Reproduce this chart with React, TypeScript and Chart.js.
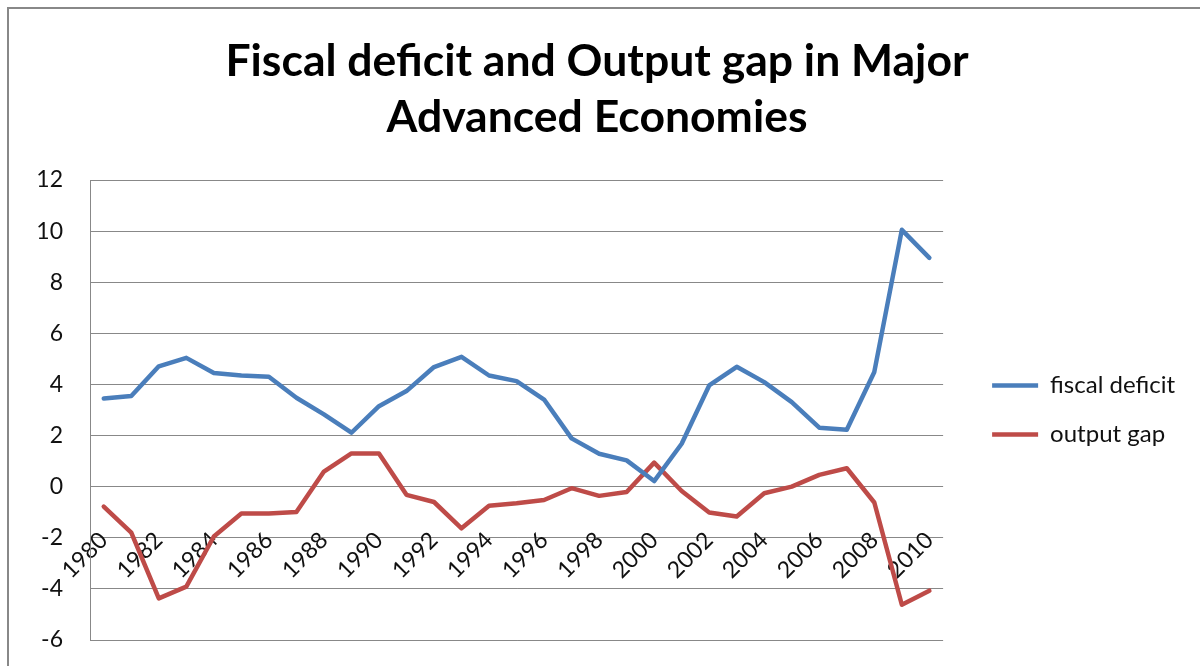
import React, { useEffect, useRef } from 'react';
import { Chart, registerables } from 'chart.js';

Chart.register(...registerables);

const TITLE_LINES = ['Fiscal deficit and Output gap in Major', 'Advanced Economies'];

const YEARS = [
  '1980', '1981', '1982', '1983', '1984', '1985', '1986', '1987', '1988', '1989',
  '1990', '1991', '1992', '1993', '1994', '1995', '1996', '1997', '1998', '1999',
  '2000', '2001', '2002', '2003', '2004', '2005', '2006', '2007', '2008', '2009', '2010',
];

const FISCAL_DEFICIT = [
  3.45, 3.55, 4.71, 5.04, 4.45, 4.35, 4.3, 3.48, 2.83, 2.11,
  3.15, 3.74, 4.68, 5.08, 4.35, 4.13, 3.41, 1.89, 1.29, 1.03,
  0.22, 1.68, 3.96, 4.69, 4.09, 3.31, 2.31, 2.23, 4.49, 10.05, 8.95,
];

const OUTPUT_GAP = [
  -0.78, -1.8, -4.37, -3.91, -1.95, -1.05, -1.05, -0.99, 0.59, 1.3,
  1.3, -0.32, -0.6, -1.63, -0.75, -0.65, -0.52, -0.06, -0.36, -0.21,
  0.94, -0.17, -1.01, -1.17, -0.26, 0.0, 0.46, 0.72, -0.62, -4.62, -4.07,
];

const Y_MIN = -6;
const Y_MAX = 12;
const Y_STEP = 2;

const BLUE = '#4A7EBB';
const RED = '#BE4B48';
const GRID = '#888888';
const TEXT = '#111111';
const FONT = 'Lato';

export default function App() {
  const ref = useRef<HTMLCanvasElement>(null);

  useEffect(() => {
    const canvas = ref.current;
    if (!canvas) return;
    const chart = new Chart(canvas, {
      type: 'line',
      data: {
        labels: YEARS,
        datasets: [
          {
            label: 'fiscal deficit',
            data: FISCAL_DEFICIT,
            borderColor: BLUE,
            backgroundColor: BLUE,
            borderWidth: 4.5,
            pointRadius: 0,
            tension: 0,
            borderCapStyle: 'round',
            borderJoinStyle: 'round',
            yAxisID: 'y',
          },
          {
            label: 'output gap',
            data: OUTPUT_GAP,
            borderColor: RED,
            backgroundColor: RED,
            borderWidth: 4.5,
            pointRadius: 0,
            tension: 0,
            borderCapStyle: 'round',
            borderJoinStyle: 'round',
            yAxisID: 'y',
          },
        ],
      },
      options: {
        animation: false,
        responsive: false,
        maintainAspectRatio: false,
        layout: { padding: { left: 0, right: 15, top: 0, bottom: 26 } },
        plugins: {
          title: {
            display: true,
            text: TITLE_LINES,
            color: '#000',
            font: { family: FONT, size: 44.5, weight: 'bold', lineHeight: 56 / 44.5 },
            padding: { top: 25, bottom: 34 },
          },
          legend: {
            position: 'right',
            fullSize: false,
            labels: {
              usePointStyle: true,
              pointStyle: 'line',
              pointStyleWidth: 46,
              padding: 25,
              color: TEXT,
              font: { family: FONT, size: 24 },
            },
          },
          tooltip: { enabled: false },
        },
        scales: {
          x: {
            type: 'category',
            offset: true,
            position: { y: 0 },
            grid: { display: false, drawTicks: false },
            border: { display: false },
            ticks: {
              autoSkip: false,
              maxRotation: 45,
              minRotation: 45,
              padding: 40,
              color: TEXT,
              font: { family: FONT, size: 23 },
              callback: (_v: any, i: number) => (i % 2 === 0 ? YEARS[i] : ''),
            },
          },
          y: {
            type: 'linear',
            position: 'left',
            min: Y_MIN,
            max: Y_MAX,
            ticks: {
              stepSize: Y_STEP,
              padding: 27,
              color: TEXT,
              font: { family: FONT, size: 23 },
            },
            grid: { color: GRID, lineWidth: 1, drawTicks: false },
            border: { display: true, color: GRID, width: 1 },
            afterFit: (s: any) => {
              s.width = 81;
              s.paddingTop = 0;
              s.paddingBottom = 0;
            },
          },
          y2: {
            type: 'linear',
            position: 'right',
            display: false,
            afterFit: (s: any) => {
              s.width = 24;
            },
          },
        },
      },
    } as any);
    return () => chart.destroy();
  }, []);

  return (
    <div
      style={{
        position: 'fixed',
        left: 7,
        top: 7,
        width: 1193,
        height: 659,
        boxSizing: 'border-box',
        borderLeft: '2px solid #888',
        borderTop: '2px solid #888',
        background: '#fff',
      }}
    >
      <canvas ref={ref} width={1191} height={657} style={{ display: 'block', width: 1191, height: 657 }} />
    </div>
  );
}
